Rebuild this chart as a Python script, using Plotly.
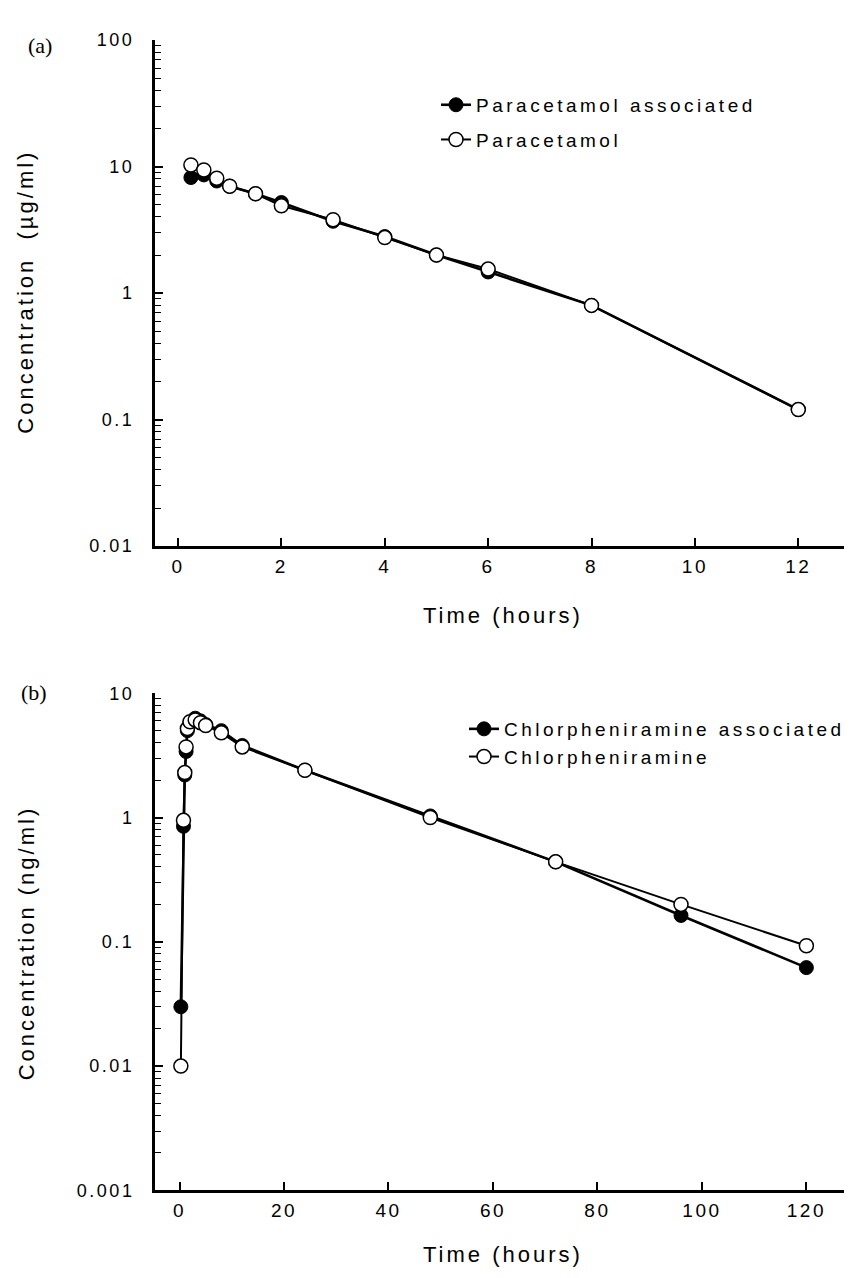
import plotly.graph_objects as go

# ---------------- data ----------------
# Panel (a): paracetamol, time in hours, concentration in ug/ml
time_a = [0.25, 0.5, 0.75, 1, 1.5, 2, 3, 4, 5, 6, 8, 12]
para_assoc = [8.2, 8.6, 7.7, 7.0, 6.1, 5.2, 3.7, 2.8, 2.0, 1.47, 0.80, 0.12]
para = [10.3, 9.4, 8.1, 7.0, 6.1, 4.9, 3.8, 2.75, 2.0, 1.55, 0.80, 0.12]

# Panel (b): chlorpheniramine, time in hours, concentration in ng/ml
time_b = [0.25, 0.75, 1, 1.25, 1.5, 2, 3, 4, 5, 8, 12, 24, 48, 72, 96, 120]
chlor_assoc = [0.03, 0.85, 2.2, 3.4, 5.0, 5.8, 6.3, 6.0, 5.6, 5.0, 3.8, 2.4, 1.03, 0.44, 0.163, 0.062]
chlor = [0.01, 0.95, 2.3, 3.7, 5.2, 5.9, 6.1, 5.8, 5.5, 4.8, 3.7, 2.4, 1.0, 0.44, 0.2, 0.093]

xticks_a = [0, 2, 4, 6, 8, 10, 12]
xticks_b = [0, 20, 40, 60, 80, 100, 120]
yticks_a = [0.01, 0.1, 1, 10, 100]
yticks_b = [0.001, 0.01, 0.1, 1, 10]
yticklabels_a = ["0.01", "0.1", "1", "10", "100"]
yticklabels_b = ["0.001", "0.01", "0.1", "1", "10"]

# ---------------- style ----------------
W, H = 852, 1278
SANS = "Liberation Sans, Arial, Helvetica, sans-serif"
SERIF = "Liberation Serif, Times New Roman, serif"


def sp(s, ls):
    return f'<span style="letter-spacing:{ls}px">{s}</span>'


def px_x(p):
    return p / W


def px_y(p):
    return 1 - p / H


def minor_vals(lo, hi):
    vals = []
    for e in range(lo, hi):
        for m in range(2, 10):
            vals.append(m * 10 ** e)
    return vals


fig = go.Figure()

filled = dict(symbol="circle", size=14, color="black", line=dict(color="black", width=1))
hollow = dict(symbol="circle", size=14, color="white", line=dict(color="black", width=1.5))

fig.add_trace(go.Scatter(x=time_a, y=para_assoc, mode="lines+markers",
                         name=sp("Paracetamol associated", 3.5),
                         line=dict(color="black", width=2.6), marker=filled,
                         xaxis="x", yaxis="y", legend="legend", legendgroup="a1"))
fig.add_trace(go.Scatter(x=time_a, y=para, mode="lines+markers",
                         name=sp("Paracetamol", 3.5),
                         line=dict(color="black", width=2.0), marker=hollow,
                         xaxis="x", yaxis="y", legend="legend", legendgroup="a2"))
fig.add_trace(go.Scatter(x=time_b, y=chlor_assoc, mode="lines+markers",
                         name=sp("Chlorpheniramine associated", 3.5),
                         line=dict(color="black", width=2.6), marker=filled,
                         xaxis="x2", yaxis="y2", legend="legend2", legendgroup="b1"))
fig.add_trace(go.Scatter(x=time_b, y=chlor, mode="lines+markers",
                         name=sp("Chlorpheniramine", 3.5),
                         line=dict(color="black", width=2.0), marker=hollow,
                         xaxis="x2", yaxis="y2", legend="legend2", legendgroup="b2"))

tickfont = dict(family=SANS, size=19, color="black")
common_x = dict(showline=True, linewidth=3, linecolor="black", mirror=False,
                showgrid=False, zeroline=False, ticks="inside", ticklen=8,
                tickwidth=1.5, tickcolor="black", tickfont=tickfont,
                ticklabelstandoff=1)
common_y = dict(type="log", showline=True, linewidth=3, linecolor="black", mirror=False,
                showgrid=False, zeroline=False, ticks="inside", ticklen=8,
                tickwidth=1.5, tickcolor="black",
                tickfont=dict(family=SANS, size=18, color="black"),
                ticklabelstandoff=14)

fig.update_layout(
    width=W, height=H,
    margin=dict(l=0, r=0, t=0, b=0),
    paper_bgcolor="white", plot_bgcolor="white",
    showlegend=True,
    xaxis=dict(common_x, domain=[px_x(147), px_x(843)], range=[-0.445, 13.02],
               tickvals=xticks_a, ticktext=[sp(str(v), 2.5) for v in xticks_a], anchor="y"),
    yaxis=dict(common_y, domain=[px_y(536.5), px_y(22.5)], range=[-2, 2],
               tickvals=yticks_a, ticktext=[sp(s, 2.5) for s in yticklabels_a], anchor="x",
               minor=dict(tickvals=minor_vals(-2, 2), ticks="inside", ticklen=6,
                          tickwidth=1.2, tickcolor="black", showgrid=False)),
    xaxis2=dict(common_x, domain=[px_x(147), px_x(848)], range=[-4.7, 129.5],
                tickvals=xticks_b, ticktext=[sp(str(v), 2.5) for v in xticks_b], anchor="y2"),
    yaxis2=dict(common_y, domain=[px_y(1191), px_y(686)], range=[-3, 1],
                tickvals=yticks_b, ticktext=[sp(s, 2.5) for s in yticklabels_b], anchor="x2",
                minor=dict(tickvals=minor_vals(-3, 1), ticks="inside", ticklen=6,
                           tickwidth=1.2, tickcolor="black", showgrid=False)),
    legend=dict(x=px_x(428), y=px_y(69), xanchor="left", yanchor="top",
                bgcolor="rgba(0,0,0,0)", borderwidth=0, traceorder="grouped",
                tracegroupgap=7, font=dict(family=SANS, size=19, color="black")),
    legend2=dict(x=px_x(456), y=px_y(703), xanchor="left", yanchor="top",
                 bgcolor="rgba(0,0,0,0)", borderwidth=0, traceorder="grouped",
                 tracegroupgap=0, font=dict(family=SANS, size=19, color="black")),
)

ann_font = dict(family=SANS, size=22, color="black")
annotations = [
    dict(text="(a)", x=px_x(32), y=px_y(28), xref="paper", yref="paper",
         showarrow=False, xanchor="center", yanchor="middle",
         font=dict(family=SERIF, size=22, color="black")),
    dict(text="(b)", x=px_x(26), y=px_y(685), xref="paper", yref="paper",
         showarrow=False, xanchor="center", yanchor="middle",
         font=dict(family=SERIF, size=22, color="black")),
    dict(text=sp("Time (hours)", 3), x=px_x(495), y=px_y(607), xref="paper", yref="paper",
         showarrow=False, xanchor="center", yanchor="middle", font=ann_font),
    dict(text=sp("Time (hours)", 3), x=px_x(495), y=px_y(1256), xref="paper", yref="paper",
         showarrow=False, xanchor="center", yanchor="middle", font=ann_font),
    dict(text=sp("Concentration  (µg/ml)", 3), x=px_x(18), y=px_y(278), xref="paper", yref="paper",
         showarrow=False, xanchor="center", yanchor="middle", textangle=-90, font=ann_font),
    dict(text=sp("Concentration (ng/ml)", 3), x=px_x(18), y=px_y(940), xref="paper", yref="paper",
         showarrow=False, xanchor="center", yanchor="middle", textangle=-90, font=ann_font),
]
fig.update_layout(annotations=annotations)

fig.write_html("out.html")
